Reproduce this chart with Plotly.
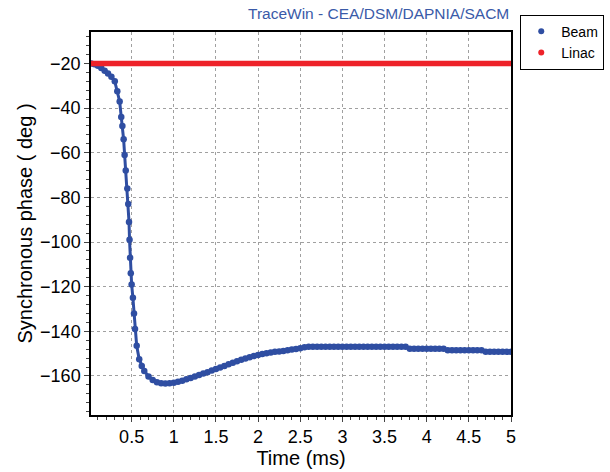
import plotly.graph_objects as go

# Beam synchronous phase (deg) vs time (ms)
beam_t = [0.02, 0.06, 0.10, 0.14, 0.18, 0.22, 0.26, 0.30, 0.33, 0.358, 0.377, 0.39,
          0.405, 0.417, 0.43, 0.449, 0.46, 0.469, 0.475, 0.482, 0.49, 0.50, 0.515,
          0.528, 0.54, 0.56, 0.59, 0.62,
          0.65, 0.70, 0.75, 0.80, 0.85, 0.90, 0.95, 1.00, 1.05, 1.10, 1.15, 1.20,
          1.25, 1.30, 1.35, 1.40, 1.45, 1.50, 1.55, 1.60, 1.65, 1.70, 1.75, 1.80,
          1.85, 1.90, 1.95, 2.00, 2.05, 2.10, 2.15, 2.20, 2.25, 2.30, 2.35, 2.40,
          2.45, 2.50, 2.55, 2.60, 2.65, 2.70, 2.75, 2.80, 2.85, 2.90, 2.95, 3.00,
          3.05, 3.10, 3.15, 3.20, 3.25, 3.30, 3.35, 3.40, 3.45, 3.50, 3.55, 3.60,
          3.65, 3.70, 3.75, 3.80, 3.85, 3.90, 3.95, 4.00, 4.05, 4.10, 4.15, 4.20,
          4.25, 4.30, 4.35, 4.40, 4.45, 4.50, 4.55, 4.60, 4.65, 4.70, 4.75, 4.80,
          4.85, 4.90, 4.95, 5.00]
beam_phase = [-20.0, -20.3, -21.0, -22.0, -23.3, -24.5, -26.0, -28.0, -32.5, -37.0, -44.0, -48.0,
              -54.0, -61.0, -68.0, -76.0, -83.0, -91.0, -99.0, -107.0, -114.0, -119.0, -125.0,
              -132.0, -139.0, -146.5, -152.5, -155.6,
              -157.8, -160.2, -161.8, -162.8, -163.3, -163.4, -163.3, -163.0, -162.6, -162.1, -161.5, -160.9,
              -160.2, -159.6, -158.9, -158.3, -157.6, -156.9, -156.2, -155.5, -154.8, -154.1, -153.4, -152.8,
              -152.2, -151.6, -151.1, -150.6, -150.2, -149.8, -149.5, -149.2, -149.0, -148.8, -148.5, -148.2,
              -147.9, -147.6, -147.2, -146.9, -146.9, -146.9, -146.9, -146.9, -146.9, -146.9, -146.9, -146.9,
              -146.9, -146.9, -146.9, -146.9, -146.9, -146.9, -146.9, -146.9, -146.9, -146.9, -146.9, -146.9,
              -146.9, -146.9, -146.9, -147.8, -147.8, -147.8, -147.8, -147.8, -147.8, -147.8, -147.8, -147.8,
              -148.5, -148.5, -148.5, -148.5, -148.5, -148.5, -148.5, -148.5, -148.5, -149.2, -149.2, -149.2,
              -149.2, -149.2, -149.2, -149.2]

# Linac synchronous phase
linac_t = [0.0, 0.5, 1.0, 1.5, 2.0, 2.5, 3.0, 3.5, 4.0, 4.5, 5.0]
linac_phase = [-20.0] * len(linac_t)

x_ticks = [0.5, 1, 1.5, 2, 2.5, 3, 3.5, 4, 4.5, 5]
x_ticktext = ["0.5", "1", "1.5", "2", "2.5", "3", "3.5", "4", "4.5", "5"]
y_ticks = [-160, -140, -120, -100, -80, -60, -40, -20]

BLUE = "#2f4ea2"
RED = "#ee2229"
FONT = "Liberation Sans, Arial, sans-serif"

fig = go.Figure()
fig.add_trace(go.Scatter(x=beam_t, y=beam_phase, mode="lines+markers",
                         line=dict(color=BLUE, width=3),
                         marker=dict(color=BLUE, size=6.5), showlegend=False))
fig.add_trace(go.Scatter(x=linac_t, y=linac_phase, mode="lines",
                         line=dict(color=RED, width=5.5), showlegend=False))
# legend entries (dot only)
fig.add_trace(go.Scatter(x=[None], y=[None], mode="markers", name="Beam",
                         marker=dict(color=BLUE, size=6)))
fig.add_trace(go.Scatter(x=[None], y=[None], mode="markers", name="Linac",
                         marker=dict(color=RED, size=6)))

axis_common = dict(showline=True, linecolor="black", linewidth=1.5, mirror=True,
                   ticks="outside", tickcolor="#444", ticklen=5, tickwidth=1,
                   showgrid=True, gridcolor="#a0a0a0", griddash="dot", gridwidth=1,
                   zeroline=False, tickfont=dict(size=18, color="black", family=FONT))

fig.update_layout(
    width=610, height=472,
    margin=dict(l=91, r=99, t=32, b=57, autoexpand=False),
    paper_bgcolor="white", plot_bgcolor="white",
    font=dict(family=FONT, color="black"),
    xaxis=dict(range=[0.018, 5.0], tickvals=x_ticks, ticktext=x_ticktext,
               title=dict(text="Time (ms)", font=dict(size=20), standoff=1),
               minor=dict(dtick=0.1, tick0=0, ticks="outside", ticklen=3, tickcolor="#444", showgrid=False),
               **axis_common),
    yaxis=dict(range=[-177.5, -5.9], tickvals=y_ticks,
               title=dict(text="Synchronous phase ( deg )", font=dict(size=20), standoff=2),
               minor=dict(dtick=4, tick0=0, ticks="outside", ticklen=3, tickcolor="#444", showgrid=False),
               **axis_common),
    legend=dict(x=1.022, y=1.045, xanchor="left", yanchor="top",
                bordercolor="black", borderwidth=1, bgcolor="white",
                font=dict(size=14, color="black"), itemwidth=30, tracegroupgap=0),
    annotations=[dict(text="TraceWin - CEA/DSM/DAPNIA/SACM", xref="paper", yref="paper",
                      x=0.999, y=1.0, xanchor="right", yanchor="bottom", yshift=8,
                      showarrow=False, font=dict(size=15.5, color="#3a5aa8"))],
)

fig.write_html("out.html")
